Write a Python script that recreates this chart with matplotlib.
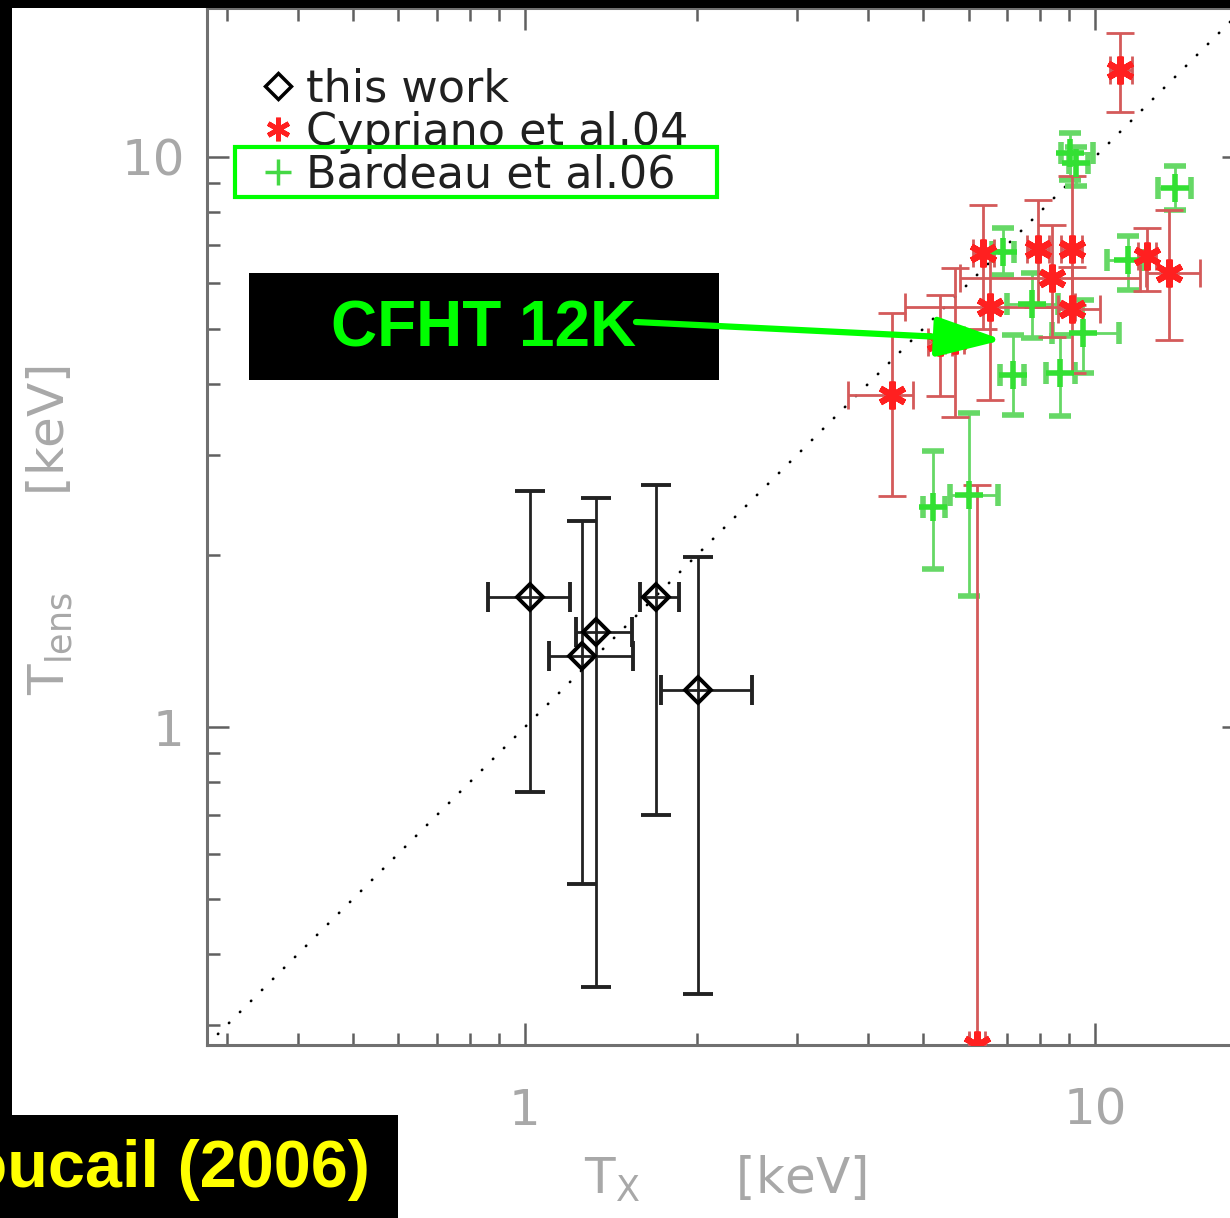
import numpy as np
import matplotlib
matplotlib.use("Agg")
import matplotlib.pyplot as plt
from matplotlib.patches import Rectangle, FancyArrowPatch, ArrowStyle
from matplotlib.lines import Line2D
from matplotlib.ticker import FixedLocator, FixedFormatter, LogLocator, NullFormatter

# ---------------------------------------------------------------------------
# data (T in keV)
# ---------------------------------------------------------------------------
# this work
tw_tx = np.array([1.02, 1.26, 1.33, 1.70, 2.01])
tw_tl = np.array([1.69, 1.33, 1.47, 1.69, 1.16])
tw_tx_lo = np.array([0.86, 1.10, 1.23, 1.59, 1.73])
tw_tx_hi = np.array([1.20, 1.55, 1.54, 1.86, 2.50])
tw_tl_lo = np.array([0.77, 0.53, 0.35, 0.70, 0.34])
tw_tl_hi = np.array([2.59, 2.30, 2.52, 2.66, 1.99])

# Cypriano et al. 04
cy_tx = np.array([4.40, 5.35, 5.68, 6.54, 6.36, 7.94, 9.10, 8.41, 9.10, 11.07, 12.32, 13.45, 6.20])
cy_tl = np.array([3.83, 4.74, 4.78, 5.46, 6.79, 6.88, 6.88, 6.14, 5.40, 14.2, 6.69, 6.26, 0.277])
cy_tx_lo = np.array([3.69, 5.10, 5.45, 4.64, 6.10, 7.60, 8.70, 5.80, 8.60, 10.6, 11.9, 12.3, 6.00])
cy_tx_hi = np.array([4.79, 5.60, 5.90, 9.20, 6.65, 8.30, 9.50, 12.0, 10.2, 11.6, 12.8, 15.3, 6.40])
cy_tl_lo = np.array([2.54, 3.80, 3.50, 3.75, 4.98, 5.46, 5.50, 4.84, 4.18, 12.0, 5.81, 4.78, 0.10])
cy_tl_hi = np.array([5.33, 5.73, 6.39, 6.87, 8.24, 8.41, 9.26, 7.60, 6.40, 16.5, 7.51, 8.08, 2.66])

# Bardeau et al. 06
ba_tx = np.array([9.04, 9.26, 13.81, 11.44, 7.74, 9.54, 7.19, 8.68, 6.90, 5.20, 6.00])
ba_tl = np.array([10.15, 9.76, 8.81, 6.60, 5.51, 4.91, 4.15, 4.18, 6.82, 2.43, 2.55])
ba_tx_lo = np.array([8.70, 9.00, 12.9, 10.48, 7.00, 8.40, 6.80, 8.20, 6.60, 5.00, 5.57])
ba_tx_hi = np.array([9.93, 9.70, 14.7, 12.1, 8.60, 11.0, 7.50, 9.20, 7.20, 5.45, 6.76])
ba_tl_lo = np.array([9.11, 8.90, 8.08, 5.85, 4.81, 4.18, 3.53, 3.51, 6.20, 1.89, 1.70])
ba_tl_hi = np.array([11.0, 10.4, 9.62, 7.25, 6.26, 5.62, 4.88, 4.85, 7.51, 3.05, 3.56])

labels = ["this work", "Cypriano et al.04", "Bardeau et al.06"]
lim = (0.277, 18.24)

# ---------------------------------------------------------------------------
W, H = 1230, 1218


def fxy(px, py):
    # image pixels (origin top-left) -> figure fraction
    return px / W, 1 - py / H


fig = plt.figure(figsize=(W / 100, H / 100), dpi=100)
fig.patch.set_facecolor("white")
ax = fig.add_axes([207 / W, 1 - 1045 / H, 1037 / W, 1037 / H])
ax.set_xscale("log")
ax.set_yscale("log")
ax.set_xlim(lim)
ax.set_ylim(lim)

# one-to-one line
ax.plot(lim, lim, color="black", lw=2.0, linestyle=(0, (0.1, 5.5)),
        dash_capstyle="round", zorder=1)

# this work
ax.errorbar(tw_tx, tw_tl,
            xerr=[tw_tx - tw_tx_lo, tw_tx_hi - tw_tx],
            yerr=[tw_tl - tw_tl_lo, tw_tl_hi - tw_tl],
            fmt="D", mfc="none", mec="black", mew=2.8, ms=13,
            ecolor="#222222", elinewidth=2.0, capsize=11, capthick=2.0, zorder=4)

# Bardeau
ax.errorbar(ba_tx, ba_tl,
            xerr=[ba_tx - ba_tx_lo, ba_tx_hi - ba_tx],
            yerr=[ba_tl - ba_tl_lo, ba_tl_hi - ba_tl],
            fmt="+", mec="#33e033", mew=4, ms=20,
            ecolor="#66d866", elinewidth=2.0, capsize=8, capthick=2.0, zorder=3)

# Cypriano
ax.errorbar(cy_tx, cy_tl,
            xerr=[cy_tx - cy_tx_lo, cy_tx_hi - cy_tx],
            yerr=[cy_tl - cy_tl_lo, cy_tl_hi - cy_tl],
            fmt="none", ecolor="#d45a5a", elinewidth=2.0, capsize=10, capthick=2.0,
            zorder=3)
ax.plot(cy_tx, cy_tl, linestyle="none", marker=(6, 2, 0), ms=20, mew=4.5,
        mec="#ff2020", zorder=5)

# axes styling
for s in ax.spines.values():
    s.set_color("#707070")
    s.set_linewidth(2.2)
ax.xaxis.set_major_locator(FixedLocator([1, 10]))
ax.yaxis.set_major_locator(FixedLocator([1, 10]))
ax.xaxis.set_major_formatter(FixedFormatter(["1", "10"]))
ax.yaxis.set_major_formatter(FixedFormatter(["1", "10"]))
ax.xaxis.set_minor_locator(LogLocator(base=10, subs=np.arange(2, 10)))
ax.yaxis.set_minor_locator(LogLocator(base=10, subs=np.arange(2, 10)))
ax.xaxis.set_minor_formatter(NullFormatter())
ax.yaxis.set_minor_formatter(NullFormatter())
ax.tick_params(which="both", direction="in", top=True, right=True,
               color="#606060", width=1.8, labelcolor="#a8a8a8", labelsize=36)
ax.tick_params(which="major", length=16)
ax.tick_params(which="minor", length=9)
ax.tick_params(axis="x", pad=30)
ax.tick_params(axis="y", pad=16)

ax.set_xlabel(r"T$_{\rm X}$      [keV]", fontsize=36, color="#a8a8a8")
ax.set_ylabel(r"T$_{\rm lens}$      [keV]", fontsize=36, color="#a8a8a8")
ax.xaxis.set_label_coords(0.5, -0.105)
ax.xaxis.label.set_va("top")
ax.yaxis.set_label_coords(-0.127, 0.497)

# legend
handles = [
    Line2D([], [], linestyle="none", marker="D", mfc="none", mec="black", mew=2.5, ms=13),
    Line2D([], [], linestyle="none", marker=(6, 2, 0), mec="#ff2020", mew=3.5, ms=17),
    Line2D([], [], linestyle="none", marker="+", mec="#44d844", mew=2.5, ms=19),
]
leg = ax.legend(handles, labels, loc="upper left", frameon=False, fontsize=32,
                labelspacing=0.0, handlelength=0.7, handletextpad=0.3,
                borderpad=0, borderaxespad=0,
                bbox_to_anchor=fxy(262, 68), bbox_transform=fig.transFigure)
for t in leg.get_texts():
    t.set_color("#202020")

# overlays from the slide
x0, y0 = fxy(235, 197)
fig.add_artist(Rectangle((x0, y0), (717 - 235) / W, (197 - 147) / H,
                         transform=fig.transFigure, fill=False,
                         edgecolor="#00ff00", lw=3, zorder=10))

x0, y0 = fxy(249, 380)
fig.add_artist(Rectangle((x0, y0), (719 - 249) / W, (380 - 273) / H,
                         transform=fig.transFigure, facecolor="black",
                         edgecolor="none", zorder=10))
fig.text(*fxy(484, 329), "CFHT 12K", color="#00ff00", fontsize=46,
         fontweight="bold", family="Liberation Sans", ha="center", va="center",
         zorder=11)
fig.add_artist(FancyArrowPatch(fxy(636, 322), fxy(1003, 340),
                               transform=fig.transFigure,
                               arrowstyle=ArrowStyle("-|>", head_length=1.5, head_width=0.45),
                               mutation_scale=27, color="#00ff00", lw=4.5,
                               shrinkA=0, shrinkB=0, zorder=11))

# black frame pieces
for (px0, py0, px1, py1) in [(0, 0, 1230, 8), (0, 0, 12, 1218), (0, 1115, 398, 1218)]:
    x0, y0 = fxy(px0, py1)
    fig.add_artist(Rectangle((x0, y0), (px1 - px0) / W, (py1 - py0) / H,
                             transform=fig.transFigure, facecolor="black",
                             edgecolor="none", zorder=12))
fig.text(*fxy(370, 1170), "Soucail (2006)", color="#ffff00", fontsize=48,
         fontweight="bold", family="Liberation Sans", ha="right", va="center",
         zorder=13)

fig.savefig("out.png", dpi=100, facecolor=fig.get_facecolor())
